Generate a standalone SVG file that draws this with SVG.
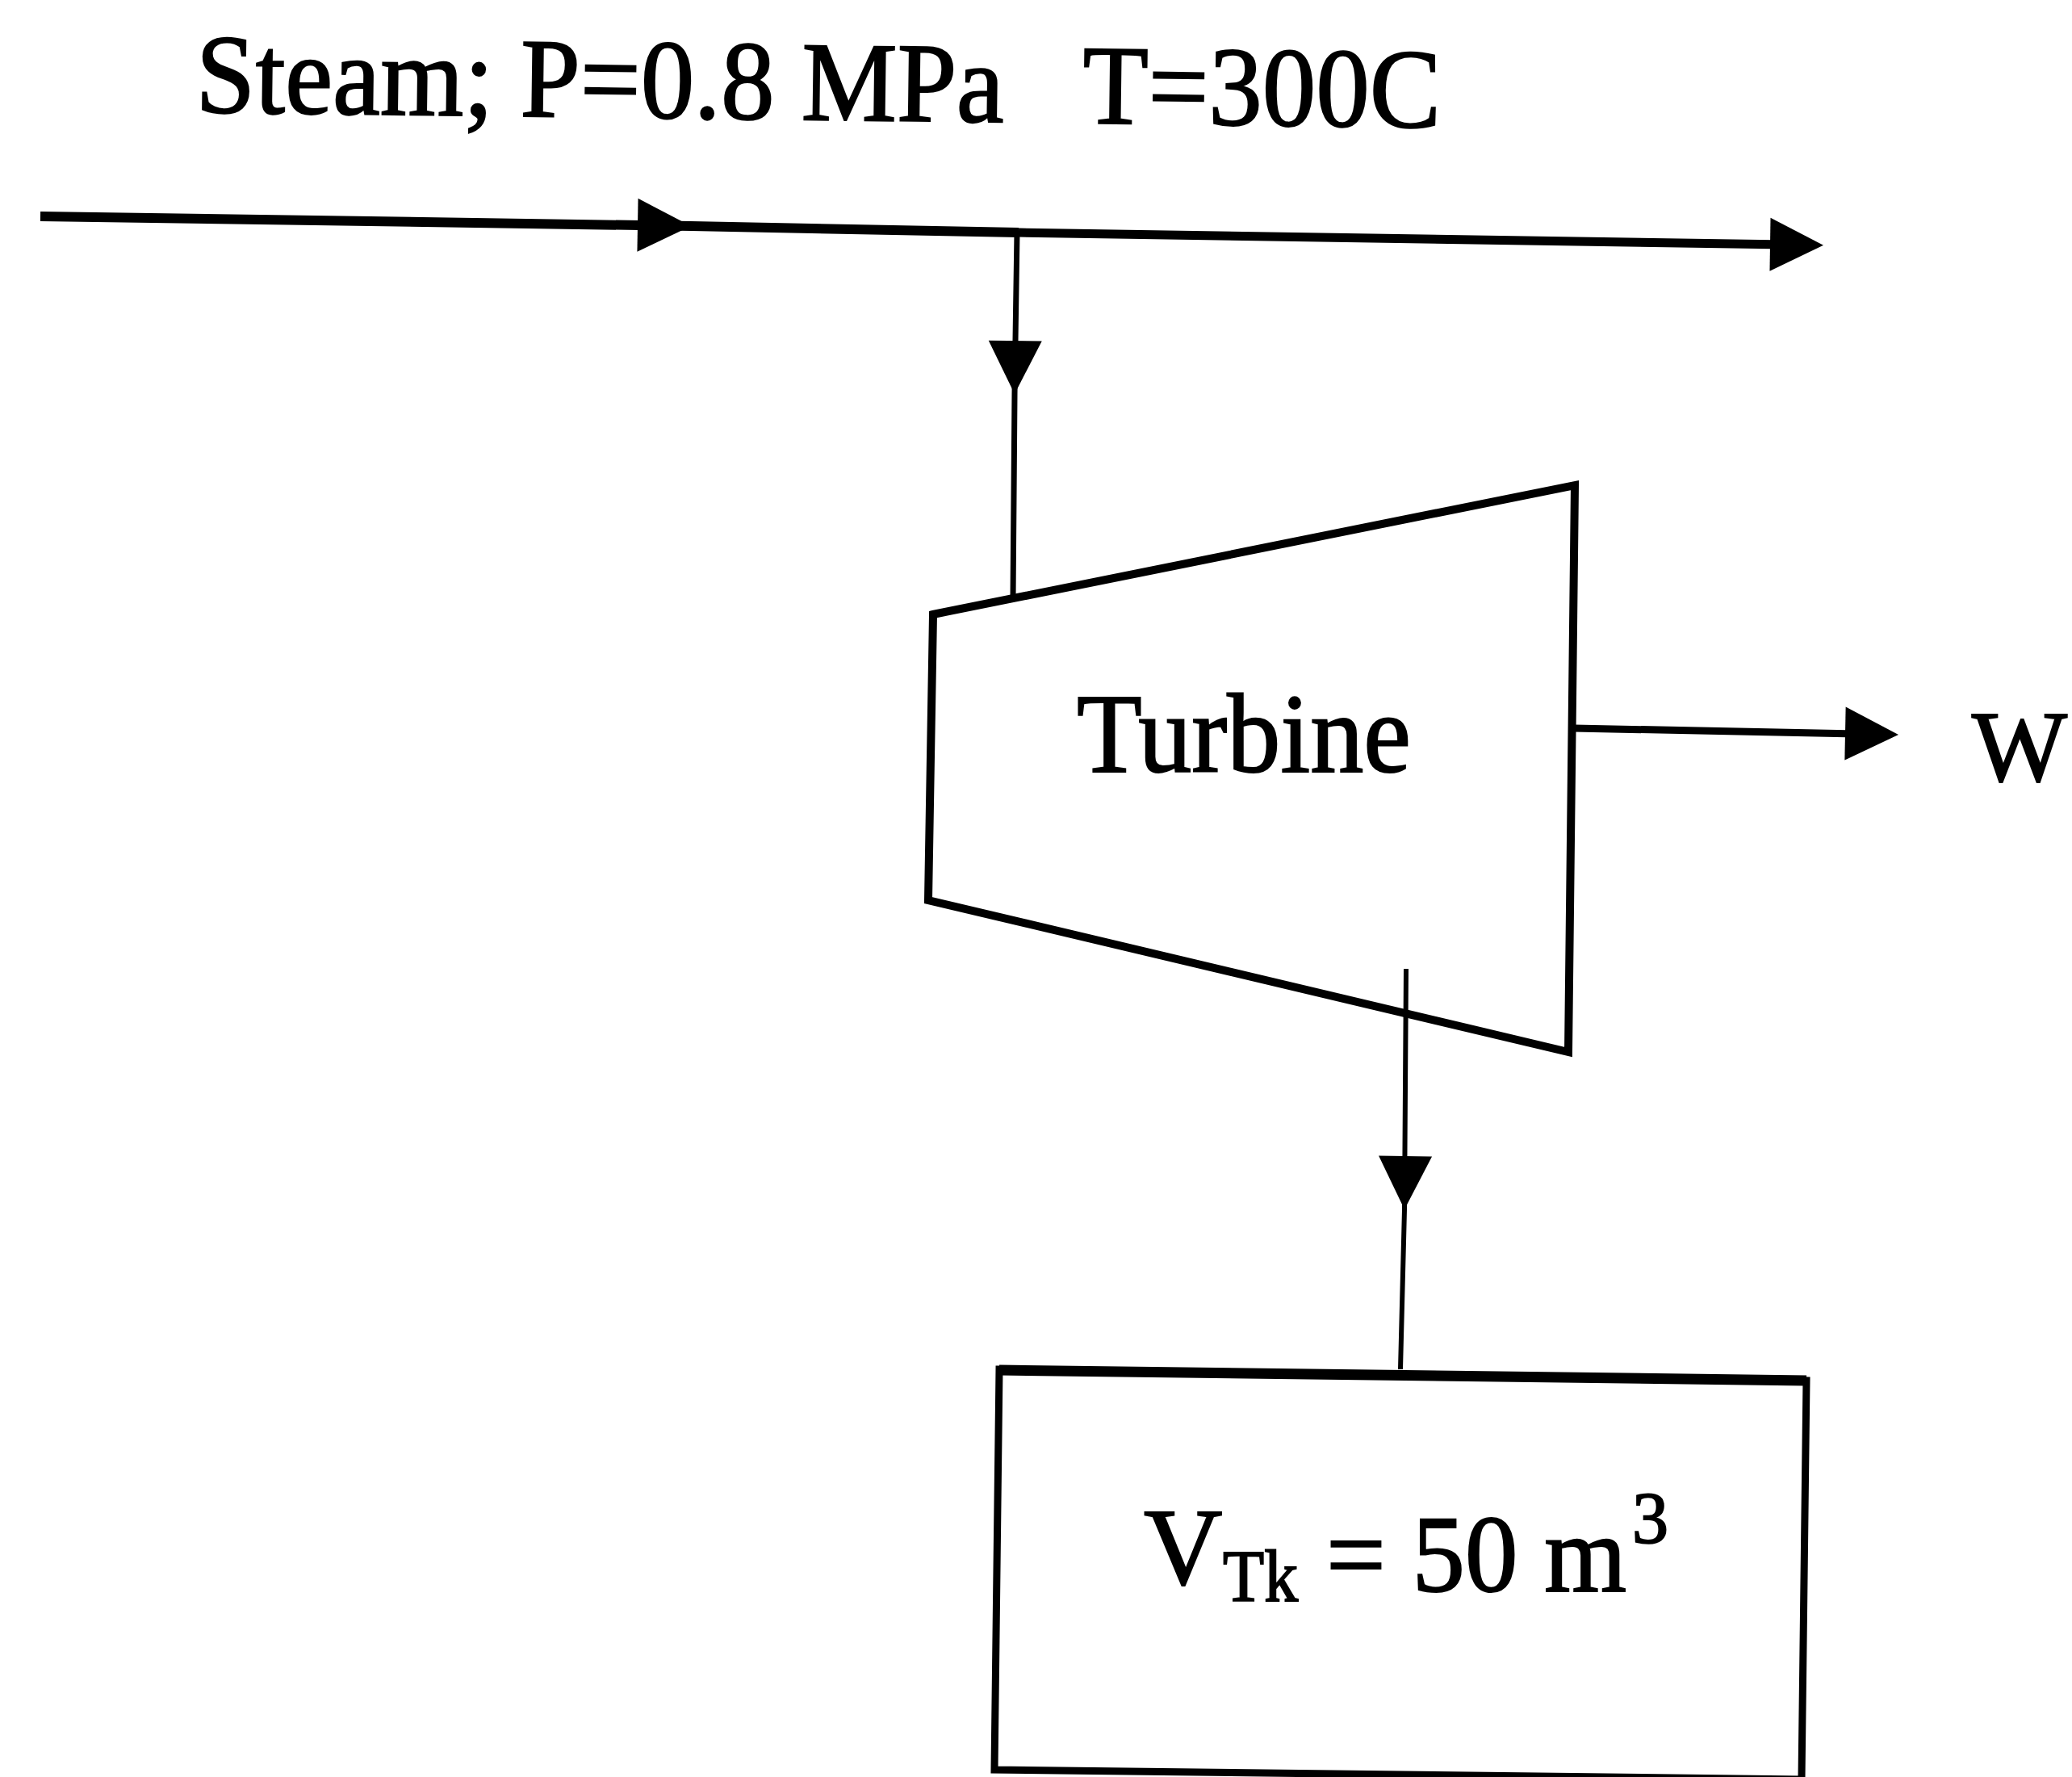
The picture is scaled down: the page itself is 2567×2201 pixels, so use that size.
<svg xmlns="http://www.w3.org/2000/svg" width="2567" height="2201" viewBox="0 0 2567 2201">
<style>
.t{font-family:"Liberation Serif","Times New Roman",serif;fill:#000;font-size:140px;stroke:#000;stroke-width:2px}
.l{fill:none;stroke:#000;stroke-linejoin:miter}
.n{fill:#fff;stroke:#000;stroke-linejoin:miter}
</style>
<defs>
<marker id="head" markerUnits="userSpaceOnUse" markerWidth="70" markerHeight="70" refX="66" refY="35" orient="auto" overflow="visible"><path d="M0,2 L66,35 L0,68 Z" fill="#000"/></marker>
<marker id="end" markerUnits="userSpaceOnUse" markerWidth="70" markerHeight="70" refX="20" refY="35" orient="auto" overflow="visible"><path d="M0,2 L66,35 L0,68 Z" fill="#000"/></marker>
</defs>
<rect width="2567" height="2201" fill="#fff"/>
<g id="turbine">
<path class="n" stroke-width="10" d="M1156,761 L1951,601 L1943,1303 L1150,1115 Z"/>
<text class="t" x="1334" y="956" textLength="414" lengthAdjust="spacingAndGlyphs">Turbine</text>
</g>
<g id="tank">
<path class="n" stroke-width="9" d="M1238,1696 L2238,1710 L2232,2204 L1232,2192 Z"/>
<path class="l" stroke-width="13" d="M1238,1697 L2238,1710"/>
<text class="t" x="1417" y="1962" style="font-size:135px">V</text>
<text class="t" x="1515" y="1983" textLength="93" lengthAdjust="spacingAndGlyphs" style="font-size:92px">Tk</text>
<text class="t" x="1643" y="1971" textLength="372" lengthAdjust="spacingAndGlyphs" style="font-size:135px">= 50 m</text>
<text class="t" x="2022" y="1911" style="font-size:90px">3</text>
</g>
<g id="labels">
<text class="t" x="242" y="139" transform="rotate(0.7 242 139)" textLength="1543" lengthAdjust="spacingAndGlyphs" xml:space="preserve">Steam; P=0.8 MPa   T=300C</text>
<text class="t" x="2443" y="967" style="font-size:125px">W</text>
</g>
<g id="connectors">
<path class="l" stroke-width="12" marker-mid="url(#head)" d="M50,268 L856,280 L1262,288"/>
<path class="l" stroke-width="11" marker-end="url(#end)" d="M1262,288 L2213,303"/>
<path class="l" stroke-width="7" marker-mid="url(#head)" d="M1260,288 L1257,488 L1255,742"/>
<path class="l" stroke-width="9" marker-end="url(#end)" d="M1950,902 L2306,909"/>
<path class="l" stroke-width="6" marker-mid="url(#head)" d="M1742,1200 L1740,1498 L1735,1696"/>
</g>
</svg>
